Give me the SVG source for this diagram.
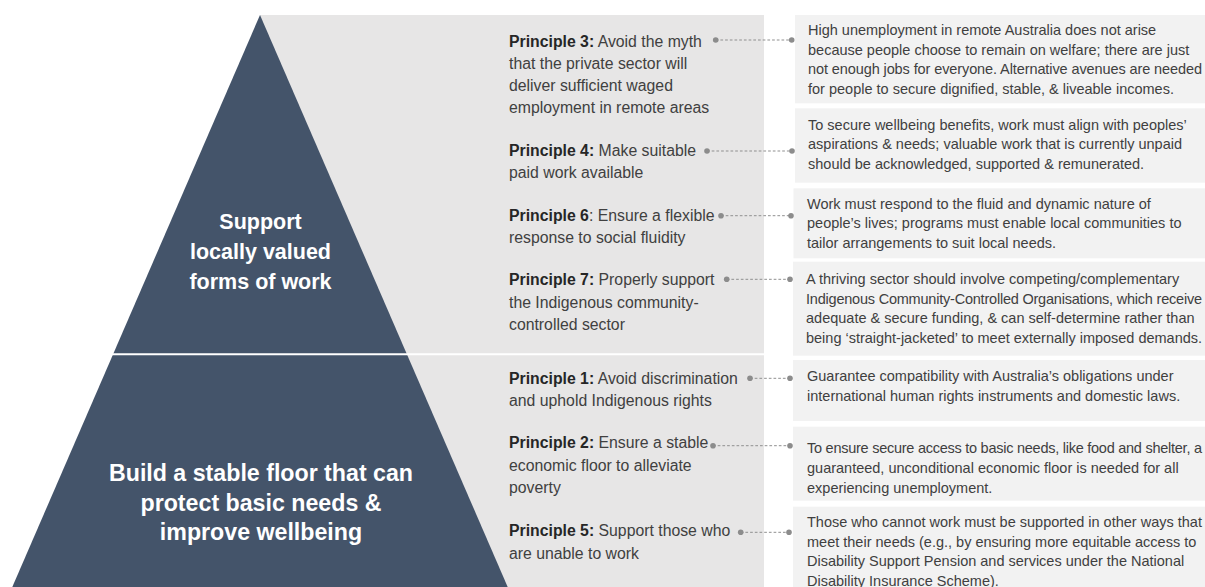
<svg xmlns="http://www.w3.org/2000/svg" width="1205" height="587" viewBox="0 0 1205 587">
<defs>
<style>
.bg{fill:#e7e6e6}
.tri{fill:#44546a}
.panel{fill:#f2f2f2}
.tw{font-family:"Liberation Sans",Arial,sans-serif;font-weight:bold;fill:#ffffff;text-anchor:middle}
.pr{font-family:"Liberation Sans",Arial,sans-serif;font-size:15.8px;fill:#404040}
.pr .b{font-weight:bold;fill:#262626}
.rt{font-family:"Liberation Sans",Arial,sans-serif;font-size:14.5px;fill:#404040}
.con line{stroke:#8f8f8f;stroke-width:1;stroke-dasharray:2.7 2}
.con circle{fill:#8c8c8c}
</style>
</defs>
<rect width="1205" height="587" fill="#ffffff"/>
<rect class="bg" x="260" y="15" width="504" height="572"/>

<g id="tier-top">
<polygon class="tri" points="260,15 406.8,354 113.2,354"/>
<text class="tw" font-size="21.5" x="260.5"><tspan x="260.5" y="229.3">Support</tspan><tspan x="260.5" y="259.3">locally valued</tspan><tspan x="260.5" y="289.3">forms of work</tspan></text>
</g>
<g id="tier-bottom">
<polygon class="tri" points="113.2,354 406.8,354 507.7,587 12.3,587"/>
<text class="tw" font-size="23.2" x="261"><tspan x="261" y="481">Build a stable floor that can</tspan><tspan x="261" y="510.5">protect basic needs &amp;</tspan><tspan x="261" y="540">improve wellbeing</tspan></text>
</g>
<line x1="100" y1="354.3" x2="764" y2="354.3" stroke="#ffffff" stroke-width="2"/>

<g id="principle-3"><text class="pr"><tspan x="509" y="46.5"><tspan class="b">Principle 3:</tspan> Avoid the myth</tspan><tspan x="509" y="68.5">that the private sector will</tspan><tspan x="509" y="90.7">deliver sufficient waged</tspan><tspan x="509" y="112.8">employment in remote areas</tspan></text></g>
<g id="principle-4"><text class="pr"><tspan x="509" y="156"><tspan class="b">Principle 4:</tspan> Make suitable</tspan><tspan x="509" y="178">paid work available</tspan></text></g>
<g id="principle-6"><text class="pr"><tspan x="509" y="220.5"><tspan class="b">Principle 6</tspan>: Ensure a flexible</tspan><tspan x="509" y="242.8">response to social fluidity</tspan></text></g>
<g id="principle-7"><text class="pr"><tspan x="509" y="285"><tspan class="b">Principle 7:</tspan> Properly support</tspan><tspan x="509" y="307.6">the Indigenous community-</tspan><tspan x="509" y="330.2">controlled sector</tspan></text></g>
<g id="principle-1"><text class="pr"><tspan x="509" y="383.5"><tspan class="b">Principle 1:</tspan> Avoid discrimination</tspan><tspan x="509" y="405.8">and uphold Indigenous rights</tspan></text></g>
<g id="principle-2"><text class="pr"><tspan x="509" y="448.2"><tspan class="b">Principle 2:</tspan> Ensure a stable</tspan><tspan x="509" y="470.6">economic floor to alleviate</tspan><tspan x="509" y="493">poverty</tspan></text></g>
<g id="principle-5"><text class="pr"><tspan x="509" y="536"><tspan class="b">Principle 5:</tspan> Support those who</tspan><tspan x="509" y="558.6">are unable to work</tspan></text></g>

<g id="desc-3"><rect class="panel" x="795" y="15" width="420" height="88.3"/><text class="rt"><tspan x="808" y="35">High unemployment in remote Australia does not arise</tspan><tspan x="808" y="54.5">because people choose to remain on welfare; there are just</tspan><tspan x="808" y="74" textLength="394">not enough jobs for everyone. Alternative avenues are needed</tspan><tspan x="808" y="93.5">for people to secure dignified, stable, &amp; liveable incomes.</tspan></text></g>
<g id="desc-4"><rect class="panel" x="795" y="108.3" width="420" height="74.4"/><text class="rt"><tspan x="808" y="130">To secure wellbeing benefits, work must align with peoples’</tspan><tspan x="808" y="149.4">aspirations &amp; needs; valuable work that is currently unpaid</tspan><tspan x="808" y="168.6">should be acknowledged, supported &amp; remunerated.</tspan></text></g>
<g id="desc-6"><rect class="panel" x="793.5" y="188.3" width="420" height="70"/><text class="rt"><tspan x="807" y="208.5">Work must respond to the fluid and dynamic nature of</tspan><tspan x="807" y="228">people’s lives; programs must enable local communities to</tspan><tspan x="807" y="247.6">tailor arrangements to suit local needs.</tspan></text></g>
<g id="desc-7"><rect class="panel" x="793" y="261.7" width="420" height="94"/><text class="rt"><tspan x="806" y="284">A thriving sector should involve competing/complementary</tspan><tspan x="806" y="303.5" textLength="396">Indigenous Community-Controlled Organisations, which receive</tspan><tspan x="806" y="323">adequate &amp; secure funding, &amp; can self-determine rather than</tspan><tspan x="806" y="342.5" textLength="396">being ‘straight-jacketed’ to meet externally imposed demands.</tspan></text></g>
<g id="desc-1"><rect class="panel" x="793" y="360" width="420" height="61"/><text class="rt"><tspan x="807" y="380.6">Guarantee compatibility with Australia’s obligations under</tspan><tspan x="807" y="400.6">international human rights instruments and domestic laws.</tspan></text></g>
<g id="desc-2"><rect class="panel" x="793" y="426.7" width="420" height="74"/><text class="rt"><tspan x="807" y="453.3" textLength="395">To ensure secure access to basic needs, like food and shelter, a</tspan><tspan x="807" y="473">guaranteed, unconditional economic floor is needed for all</tspan><tspan x="807" y="492.7">experiencing unemployment.</tspan></text></g>
<g id="desc-5"><rect class="panel" x="793" y="506.7" width="420" height="90"/><text class="rt"><tspan x="807" y="526.7">Those who cannot work must be supported in other ways that</tspan><tspan x="807" y="546.5">meet their needs (e.g., by ensuring more equitable access to</tspan><tspan x="807" y="566.3">Disability Support Pension and services under the National</tspan><tspan x="807" y="586">Disability Insurance Scheme).</tspan></text></g>

<g id="connectors" class="con">
<line x1="715.7" y1="40" x2="791.7" y2="40"/><circle cx="715.7" cy="40" r="2.8"/><circle cx="791.7" cy="40" r="2.8"/>
<line x1="707" y1="151" x2="792" y2="151"/><circle cx="707" cy="151" r="2.8"/><circle cx="792" cy="151" r="2.8"/>
<line x1="721" y1="215.7" x2="791" y2="215.7"/><circle cx="721" cy="215.7" r="2.8"/><circle cx="791" cy="215.7" r="2.8"/>
<line x1="726.7" y1="279.3" x2="790" y2="279.3"/><circle cx="726.7" cy="279.3" r="2.8"/><circle cx="790" cy="279.3" r="2.8"/>
<line x1="750" y1="378.3" x2="790" y2="378.3"/><circle cx="750" cy="378.3" r="2.8"/><circle cx="790" cy="378.3" r="2.8"/>
<line x1="713" y1="445.7" x2="790" y2="445.7"/><circle cx="713" cy="445.7" r="2.8"/><circle cx="790" cy="445.7" r="2.8"/>
<line x1="740.7" y1="532.3" x2="789" y2="532.3"/><circle cx="740.7" cy="532.3" r="2.8"/><circle cx="789" cy="532.3" r="2.8"/>
</g>
</svg>
